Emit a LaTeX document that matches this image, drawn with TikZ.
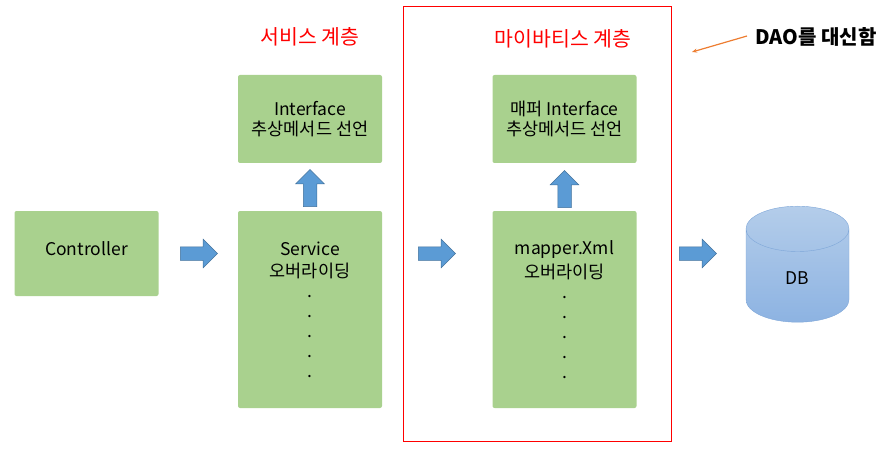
\documentclass[tikz,border=0pt]{standalone}
\usepackage{fontspec}
\setmainfont{Noto Sans CJK KR}
\usetikzlibrary{shapes.geometric,shapes.arrows,calc,positioning,arrows.meta}
\definecolor{boxgreen}{HTML}{A9D18E}
\definecolor{arrowblue}{HTML}{5B9BD5}
\definecolor{arrowedge}{HTML}{41719C}
\definecolor{dbtop}{HTML}{B4CDEA}
\definecolor{dbbottom}{HTML}{8DB3E2}
\definecolor{dbedge}{HTML}{7EA6D8}
\definecolor{noteorange}{HTML}{ED7D31}

\tikzset{
  layerbox/.style={fill=boxgreen, rounded corners=2pt, minimum width=144pt, inner sep=0pt,
    align=center, font=\fontsize{17.5}{20}\selectfont},
  flowarrow/.style={single arrow, fill=arrowblue, draw=arrowedge, line width=0.5pt,
    minimum height=37pt, inner sep=6.5pt, single arrow head extend=7.5pt},
  layertitle/.style={text=red, font=\fontsize{20.5}{24}\selectfont},
}

\begin{document}
\begin{tikzpicture}[x=1pt,y=-1pt]
  \useasboundingbox (0,0) rectangle (891,449);

  % layer boxes
  \node[layerbox, minimum height=85pt] (ctrl) at (86.5,253.5) {\raisebox{9pt}{Controller}};
  \node[layerbox, minimum height=88pt] (svcif) at (310,119) {Interface\\추상메서드 선언};
  \node[layerbox, minimum height=197pt] (svc) at (310,309.5) {\raisebox{2pt}{Service}\\오버라이딩\\.\\.\\.\\.\\.};
  \node[layerbox, minimum height=88pt] (mapif) at (564.5,119) {매퍼 Interface\\추상메서드 선언};
  \node[layerbox, minimum height=197pt] (mapxml) at (564.5,309.5) {\raisebox{4pt}{mapper.Xml}\\오버라이딩\\.\\.\\.\\.\\.};

  % database
  \node[cylinder, shape border rotate=90, aspect=1.5, draw=dbedge, top color=dbtop, bottom color=dbbottom,
    minimum width=103pt, minimum height=116pt, anchor=north, font=\fontsize{17.5}{20}\selectfont] (db) at (797.5,206) {\raisebox{4pt}{DB}};

  % block arrows
  \node[flowarrow, right=21.5pt of ctrl] (a1) {};
  \node[flowarrow, right=36pt of svc.east |- a1] (a2) {};
  \node[flowarrow, right=42.5pt of mapxml.east |- a1] (a3) {};
  \node[flowarrow, shape border rotate=90, above=4pt of svc] (u1) {};
  \node[flowarrow, shape border rotate=90, above=3pt of mapxml] (u2) {};

  % mybatis frame and titles
  \draw[red, line width=1pt] (403,7) rectangle (671,441);
  \node[layertitle] (svctitle) at (310,37) {서비스 계층};
  \node[layertitle] (maptitle) at (563,39) {마이바티스 계층};

  % note
  \node[font=\fontsize{20}{24}\selectfont\bfseries, anchor=west] (note) at (752,37) {DAO를 대신함};
  \coordinate (notetip) at (692,52);
  \draw[noteorange, line width=1.2pt, -{Stealth[length=5pt,width=4pt]}] (note.west) ++(-5,-1) -- (notetip);
\end{tikzpicture}
\end{document}
